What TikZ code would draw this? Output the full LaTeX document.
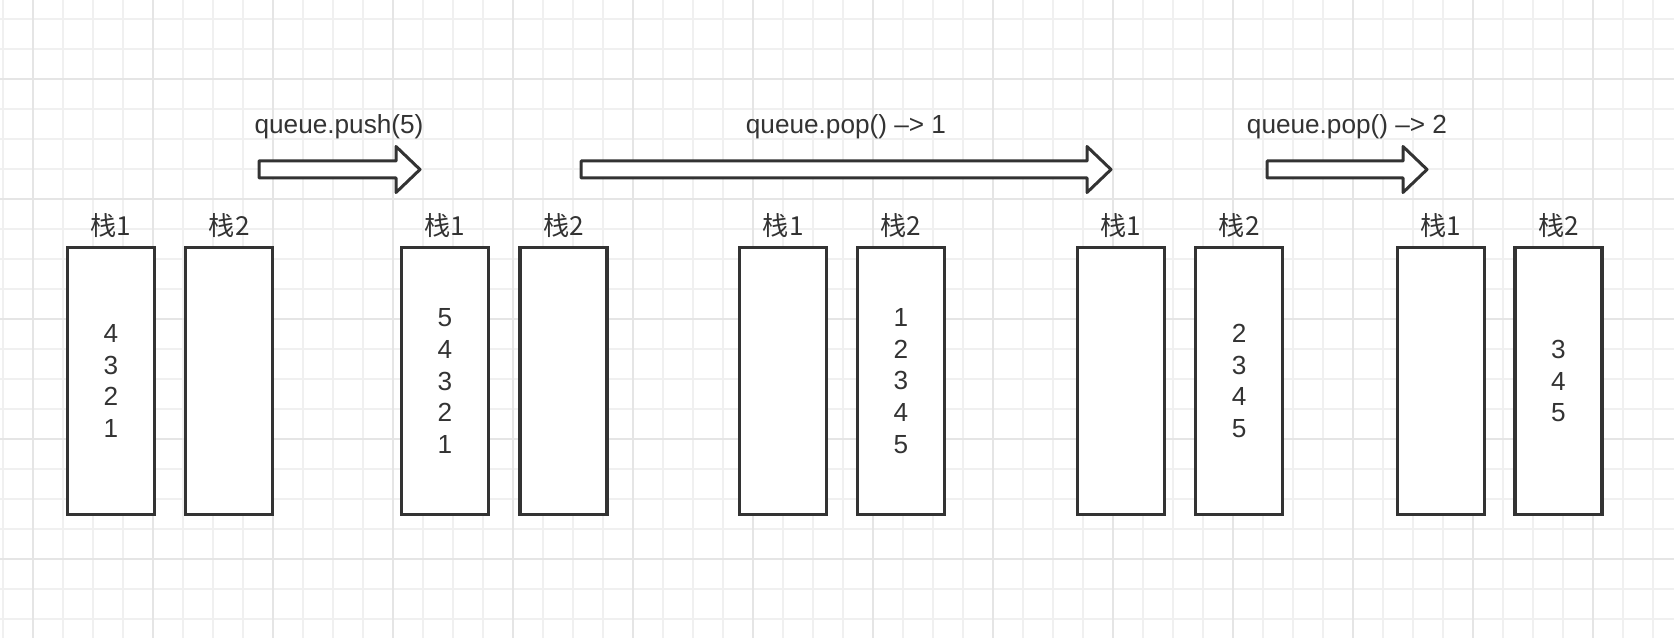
\documentclass[tikz,border=0pt]{standalone}
\usepackage{fontspec}
\setmainfont{Liberation Sans}
\newfontfamily\cjk{Noto Sans CJK SC}
\usepackage[HTML]{xcolor}
\usepackage{tikz}

\definecolor{ink}{HTML}{333333}
\definecolor{gridminor}{HTML}{F0F0F0}
\definecolor{gridmajor}{HTML}{E5E5E5}

\tikzset{
  stackbox/.style={draw=ink, line width=0.065cm, fill=white, minimum width=1.74cm,
    minimum height=5.33cm, inner sep=0pt, align=center, text=ink,
    font=\fontsize{14.9}{18.05}\selectfont},
  stacklbl/.style={text=ink, font=\cjk\fontsize{14.9}{18}\selectfont},
  oplbl/.style={text=ink, font=\fontsize{14.9}{18}\selectfont},
  blockarrow/.style={draw=ink, line width=0.06cm, fill=white, line join=round}
}

\begin{document}
\begin{tikzpicture}[x=0.02cm, y=-0.02cm]
% Background and grid
\fill[white] (0,0) rectangle (1674,638);
\useasboundingbox (0,0) rectangle (1674,638);
\foreach \x in {3,33,...,1653} \draw[gridminor, line width=0.04cm] (\x,0) -- (\x,638);
\foreach \y in {19,49,...,619} \draw[gridminor, line width=0.04cm] (0,\y) -- (1674,\y);
\foreach \x in {33,153,...,1593} \draw[gridmajor, line width=0.05cm] (\x,0) -- (\x,638);
\foreach \y in {79,199,...,559} \draw[gridmajor, line width=0.05cm] (0,\y) -- (1674,\y);

% Operations (block arrows)
\foreach \a/\b in {259/420, 581/1111, 1267/1427}
  \draw[blockarrow] (\a,161) -- (\b-24,161) -- (\b-24,146.5) -- (\b,169.5)
    -- (\b-24,192.5) -- (\b-24,178) -- (\a,178) -- cycle;
\node[oplbl] (push) at (339,127) {queue.push(5)};
\node[oplbl] (pop1) at (846,127) {queue.pop() \textendash> 1};
\node[oplbl] (pop2) at (1347,127) {queue.pop() \textendash> 2};

% State 0
\node[stackbox] (q0s1) at (110.8,381) {4\\3\\2\\1};
\node[stackbox] (q0s2) at (229.3,381) {};
% State 1
\node[stackbox] (q1s1) at (444.9,381) {5\\4\\3\\2\\1};
\node[stackbox] (q1s2) at (563.4,381) {};
% State 2
\node[stackbox] (q2s1) at (783.3,381) {};
\node[stackbox] (q2s2) at (901,381) {1\\2\\3\\4\\5};
% State 3
\node[stackbox] (q3s1) at (1120.7,381) {};
\node[stackbox] (q3s2) at (1239.2,381) {2\\3\\4\\5};
% State 4
\node[stackbox] (q4s1) at (1441,381) {};
\node[stackbox] (q4s2) at (1558.4,381) {3\\4\\5};

% Stack labels
\foreach \n in {0,...,4} {
  \node[stacklbl] at ([yshift=0.42cm]q\n s1.north) {栈1};
  \node[stacklbl] at ([yshift=0.42cm]q\n s2.north) {栈2};
}
\end{tikzpicture}
\end{document}
